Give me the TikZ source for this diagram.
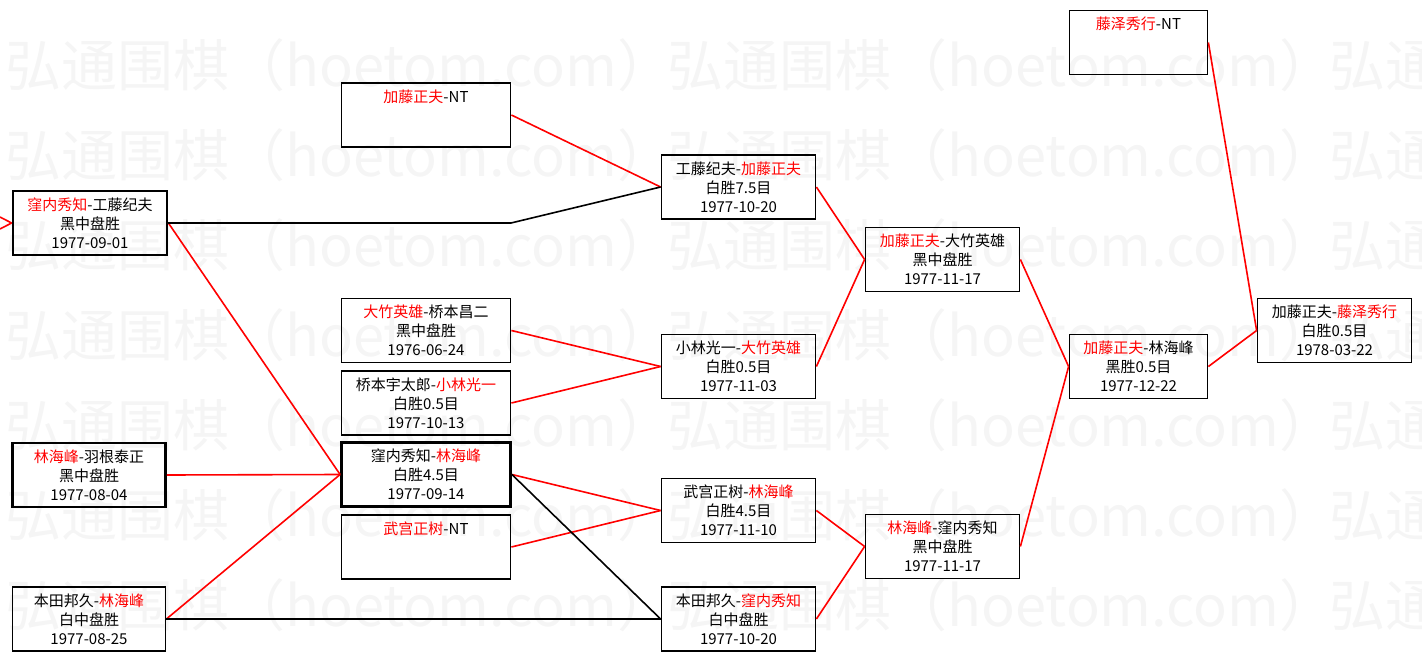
\documentclass[tikz,border=0pt]{standalone}
\usepackage{fontspec}
\setmainfont{Noto Sans CJK SC}
\begin{document}
\begin{tikzpicture}[x=1pt,y=-1pt]
      \useasboundingbox (0,0) rectangle (1422,661);

      % watermark rows
      \begin{scope}[every node/.style={anchor=west,inner sep=0,text=black!4,font=\fontsize{56}{56}\selectfont}]
        \node (w1) at (5,65)  {弘通围棋（hoetom.com）\hspace{-6pt}弘通围棋（hoetom.com）\hspace{-6pt}弘通围棋};
        \node (w2) at (5,155) {弘通围棋（hoetom.com）\hspace{-6pt}弘通围棋（hoetom.com）\hspace{-6pt}弘通围棋};
        \node (w3) at (5,245) {弘通围棋（hoetom.com）\hspace{-6pt}弘通围棋（hoetom.com）\hspace{-6pt}弘通围棋};
        \node (w4) at (5,335) {弘通围棋（hoetom.com）\hspace{-6pt}弘通围棋（hoetom.com）\hspace{-6pt}弘通围棋};
        \node (w5) at (5,425) {弘通围棋（hoetom.com）\hspace{-6pt}弘通围棋（hoetom.com）\hspace{-6pt}弘通围棋};
        \node (w6) at (5,515) {弘通围棋（hoetom.com）\hspace{-6pt}弘通围棋（hoetom.com）\hspace{-6pt}弘通围棋};
        \node (w7) at (5,605) {弘通围棋（hoetom.com）\hspace{-6pt}弘通围棋（hoetom.com）\hspace{-6pt}弘通围棋};
      \end{scope}

      \begin{scope}[every node/.style={rectangle,draw,line width=1.8pt,minimum height=64,inner sep=0,align=center,font=\fontsize{15}{19}\selectfont}]
        \node[minimum width=154,line width=2.8pt] (1) at (90,223)   {{\color{red}窪内秀知}-工藤纪夫\\黑中盘胜\\1977-09-01};
        \node[minimum width=153,line width=2.8pt] (2) at (89,475)   {{\color{red}林海峰}-羽根泰正\\黑中盘胜\\1977-08-04};
        \node[minimum width=153] (3)  at (89,619)    {本田邦久-{\color{red}林海峰}\\白中盘胜\\1977-08-25};
        \node[minimum width=169] (4)  at (426,115)   {{\color{red}加藤正夫}-NT\\~\\~};
        \node[minimum width=169] (5)  at (426,330.5) {{\color{red}大竹英雄}-桥本昌二\\黑中盘胜\\1976-06-24};
        \node[minimum width=169] (6)  at (426,403)   {桥本宇太郎-{\color{red}小林光一}\\白胜0.5目\\1977-10-13};
        \node[minimum width=169,line width=2.8pt] (7) at (426,474.5) {窪内秀知-{\color{red}林海峰}\\白胜4.5目\\1977-09-14};
        \node[minimum width=169] (8)  at (426,547)   {{\color{red}武宫正树}-NT\\~\\~};
        \node[minimum width=154] (9)  at (738.5,187)   {工藤纪夫-{\color{red}加藤正夫}\\白胜7.5目\\1977-10-20};
        \node[minimum width=154] (10) at (738.5,366.5) {小林光一-{\color{red}大竹英雄}\\白胜0.5目\\1977-11-03};
        \node[minimum width=154] (11) at (738.5,510.5) {武宫正树-{\color{red}林海峰}\\白胜4.5目\\1977-11-10};
        \node[minimum width=154] (12) at (738.5,619)   {本田邦久-{\color{red}窪内秀知}\\白中盘胜\\1977-10-20};
        \node[minimum width=154] (13) at (942.5,259.5) {{\color{red}加藤正夫}-大竹英雄\\黑中盘胜\\1977-11-17};
        \node[minimum width=154] (14) at (942.5,546.5) {{\color{red}林海峰}-窪内秀知\\黑中盘胜\\1977-11-17};
        \node[minimum width=138] (15) at (1138.5,42.5)  {{\color{red}藤泽秀行}-NT\\~\\~};
        \node[minimum width=138] (16) at (1138.5,366.5) {{\color{red}加藤正夫}-林海峰\\黑胜0.5目\\1977-12-22};
        \node[minimum width=154] (17) at (1334.5,330.5) {加藤正夫-{\color{red}藤泽秀行}\\白胜0.5目\\1978-03-22};
      \end{scope}

      \coordinate (l1) at (0,217);
      \coordinate (l2) at (0,229);
      \coordinate (j1) at (341,223);
      \coordinate (j2) at (511,223);

      \begin{scope}[every edge/.style={draw,line width=1.6pt}]
        % winners
        \path (l1)  edge[red] (1.west);
        \path (l2)  edge[red] (1.west);
        \path (1.east)  edge[red] (7.west);
        \path (2.east)  edge[red] (7.west);
        \path (3.east)  edge[red] (7.west);
        \path (4.east)  edge[red] (9.west);
        \path (5.east)  edge[red] (10.west);
        \path (6.east)  edge[red] (10.west);
        \path (7.east)  edge[red] (11.west);
        \path (8.east)  edge[red] (11.west);
        \path (9.east)  edge[red] (13.west);
        \path (10.east) edge[red] (13.west);
        \path (11.east) edge[red] (14.west);
        \path (12.east) edge[red] (14.west);
        \path (13.east) edge[red] (16.west);
        \path (14.east) edge[red] (16.west);
        \path (15.east) edge[red] (17.west);
        \path (16.east) edge[red] (17.west);
        % losers
        \path (1.east)  edge[line width=2.8pt] (j1);
        \path (j1)      edge (j2);
        \path (j2)      edge (9.west);
        \path (3.east)  edge (12.west);
        \path (7.east)  edge (12.west);
      \end{scope}

    \end{tikzpicture}
\end{document}
